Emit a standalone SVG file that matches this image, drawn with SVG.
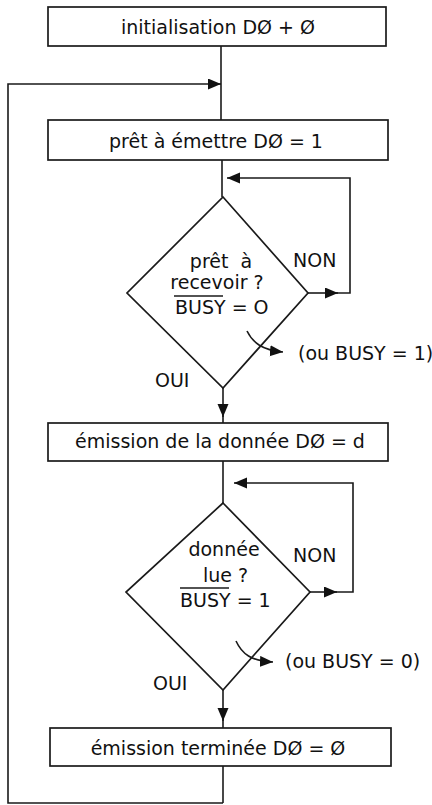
<svg xmlns="http://www.w3.org/2000/svg" width="432" height="805" viewBox="0 0 432 805">
<style>
.box{fill:#fff;stroke:#1a1a1a;stroke-width:1.7}
.ln{fill:none;stroke:#1a1a1a;stroke-width:1.6}
.t{font-family:"DejaVu Sans","Liberation Sans",sans-serif;font-size:19px;fill:#111}
.m{text-anchor:middle}
</style>
<defs>
<marker id="ah" markerUnits="userSpaceOnUse" markerWidth="14" markerHeight="12" refX="13" refY="5.5" orient="auto">
<path d="M0,0 L13,5.5 L0,11 z" fill="#111"/>
</marker>
</defs>
<rect width="432" height="805" fill="#fff"/>
<g id="n1">
<rect class="box" x="48" y="7" width="338" height="39"/>
<text class="t m" x="218" y="34">initialisation DØ + Ø</text>
</g>
<g id="n2">
<rect class="box" x="48" y="120" width="340" height="40"/>
<text class="t m" x="216" y="148">prêt à émettre DØ = 1</text>
</g>
<g id="d1">
<polygon class="box" points="223,197 308,293 223,388 127,293"/>
<text class="t m" x="221" y="268">prêt&#160;&#160;à</text>
<text class="t m" x="217" y="289">recevoir ?</text>
<text class="t" x="175" y="314">BUSY = O</text>
<line class="ln" x1="174" y1="296" x2="223" y2="296"/>
<text class="t" x="293" y="267">NON</text>
<text class="t" x="155" y="387">OUI</text>
<text class="t" x="298" y="360">(ou BUSY = 1)</text>
</g>
<g id="n3">
<rect class="box" x="48" y="423" width="340" height="38"/>
<text class="t m" x="220" y="448">émission de la donnée DØ = d</text>
</g>
<g id="d2">
<polygon class="box" points="223,503 310,592 223,690 126,592"/>
<text class="t m" x="224" y="556">donnée</text>
<text class="t" x="203" y="582">lue ?</text>
<line class="ln" x1="180" y1="588" x2="229" y2="588"/>
<text class="t" x="180" y="607">BUSY = 1</text>
<text class="t" x="293" y="562">NON</text>
<text class="t" x="153" y="690">OUI</text>
<text class="t" x="285" y="668">(ou BUSY = 0)</text>
</g>
<g id="n4">
<rect class="box" x="50" y="728" width="341" height="38"/>
<text class="t m" x="218" y="755">émission terminée DØ = Ø</text>
</g>
<g id="connectors">
<line class="ln" x1="221" y1="46" x2="221" y2="120"/>
<path class="ln" d="M223,803 L8,803 L8,84 L221,84" marker-end="url(#ah)"/>
<line class="ln" x1="222" y1="160" x2="222" y2="197"/>
<line class="ln" x1="308" y1="293" x2="338" y2="293" marker-end="url(#ah)"/>
<path class="ln" d="M336,293 L350,293 L350,178 L227,178" marker-end="url(#ah)"/>
<line class="ln" x1="223" y1="388" x2="223" y2="417" marker-end="url(#ah)"/>
<line class="ln" x1="223" y1="415" x2="223" y2="423"/>
<path class="ln" d="M247,331 C253,343 262,350 283,352" marker-end="url(#ah)"/>
<line class="ln" x1="223" y1="461" x2="223" y2="503"/>
<line class="ln" x1="310" y1="592" x2="337" y2="592" marker-end="url(#ah)"/>
<path class="ln" d="M335,592 L353,592 L353,483 L234,483" marker-end="url(#ah)"/>
<line class="ln" x1="223" y1="690" x2="223" y2="721" marker-end="url(#ah)"/>
<line class="ln" x1="223" y1="719" x2="223" y2="728"/>
<path class="ln" d="M236,641 C242,654 251,661 273,662" marker-end="url(#ah)"/>
<line class="ln" x1="223" y1="766" x2="223" y2="803"/>
</g>
</svg>
